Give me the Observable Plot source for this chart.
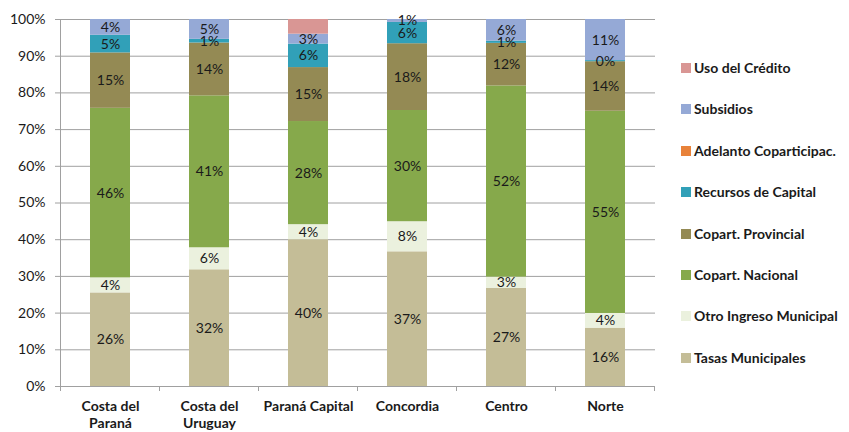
<!DOCTYPE html>
<html><head><meta charset="utf-8">
<script src="https://cdn.jsdelivr.net/npm/d3@7"></script>
<script src="https://cdn.jsdelivr.net/npm/@observablehq/plot@0.6"></script>
<style>
body{margin:0;background:#fff;font-family:Lato,sans-serif;}
#wrap{position:relative;width:849px;height:432px;}
.item{position:absolute;left:681px;white-space:nowrap;font-size:14px;font-weight:bold;color:#1a1a1a;display:flex;align-items:center;height:18px;line-height:18px;}
.sw{width:10px;height:10px;margin-right:3px;flex:none;}
</style></head>
<body><div id="wrap"></div>
<script>
const categories = ["Costa del Paraná", "Costa del Uruguay", "Paraná Capital", "Concordia", "Centro", "Norte"];
const xTickLabels = ["Costa del\nParaná", "Costa del\nUruguay", "Paraná Capital", "Concordia", "Centro", "Norte"];
const yTicks = [0, 10, 20, 30, 40, 50, 60, 70, 80, 90, 100];

const seriesNames = ["Tasas Municipales", "Otro Ingreso Municipal", "Copart. Nacional", "Copart. Provincial", "Recursos de Capital", "Adelanto Coparticipac.", "Subsidios", "Uso del Crédito"];
const tasas      = [25.5, 31.8, 40.0, 36.7, 26.7, 15.9];
const otro       = [4.1, 6.0, 4.1, 8.2, 3.1, 4.0];
const nacional   = [46.2, 41.4, 28.1, 30.3, 52.1, 55.1];
const provincial = [15.1, 14.4, 14.7, 18.2, 11.6, 13.5];
const recursos   = [4.8, 1.0, 6.4, 5.8, 0.6, 0.3];
const adelanto   = [0, 0, 0, 0, 0, 0];
const subsidios  = [4.3, 5.4, 2.7, 0.8, 5.9, 11.2];
const credito    = [0, 0, 4.0, 0, 0, 0];
const seriesValues = [tasas, otro, nacional, provincial, recursos, adelanto, subsidios, credito];
const colors = ["#c4bd97", "#ebf1de", "#86a94b", "#948a54", "#31a0b8", "#e8823a", "#95a9d6", "#d99694"];
const unlabeled = ["Adelanto Coparticipac.", "Uso del Crédito"];

const rows = seriesNames.flatMap((s, i) => categories.map((c, j) => ({cat: c, series: s, value: seriesValues[i][j]})));
const labelRows = rows.filter(r => !unlabeled.includes(r.series));

function boundaryTicks(index, scales, values, dimensions) {
  const x = scales.x;
  const step = typeof x.step === "function" ? x.step() : (x(categories[1]) - x(categories[0]));
  const bw = typeof x.bandwidth === "function" ? x.bandwidth() : step * 0.4;
  const y0 = dimensions.height - dimensions.marginBottom;
  const xs = categories.map(c => x(c) - (step - bw) / 2);
  xs.push(x(categories[categories.length - 1]) + bw + (step - bw) / 2);
  const g = d3.create("svg:g").attr("stroke", "#a0a0a0").attr("shape-rendering", "crispEdges");
  for (const v of xs) g.append("line").attr("x1", v).attr("x2", v).attr("y1", y0).attr("y2", y0 + 5);
  g.append("line").attr("x1", dimensions.marginLeft).attr("x2", dimensions.marginLeft)
    .attr("y1", dimensions.marginTop).attr("y2", y0);
  return g.node();
}

const chart = Plot.plot({
  width: 849, height: 432,
  marginLeft: 60, marginRight: 194, marginTop: 19, marginBottom: 46,
  style: {fontFamily: "Lato, sans-serif", fontSize: "14px", color: "#1a1a1a", background: "transparent"},
  x: {domain: categories, paddingInner: 0.6, paddingOuter: 0.3, label: null},
  y: {domain: [0, 100], label: null},
  color: {domain: seriesNames, range: colors},
  marks: [
    Plot.gridY(yTicks, {stroke: "#a0a0a0", strokeOpacity: 1}),
    Plot.barY(rows, {x: "cat", y: "value", fill: "series", order: seriesNames}),
    Plot.text(labelRows, Plot.stackY({x: "cat", y: "value", z: "series", order: seriesNames,
      text: d => Math.round(d.value) + "%", fill: "#1a1a1a", fontSize: 14})),
    Plot.axisY(yTicks, {tickFormat: d => d + "%", tickSize: 5, tickPadding: 10, stroke: "#a0a0a0", fill: "#1a1a1a", fontSize: 14, label: null}),
    Plot.axisX({tickSize: 0, tickPadding: 12, fontWeight: "bold", fontSize: 14, lineHeight: 1.25, fill: "#1a1a1a",
      tickFormat: d => xTickLabels[categories.indexOf(d)], label: null}),
    Plot.ruleY([0], {stroke: "#a0a0a0"}),
    boundaryTicks
  ]
});
const wrap = document.getElementById("wrap");
wrap.appendChild(chart);

const legendOrder = seriesNames.map((s, i) => i).reverse();
legendOrder.forEach((si, k) => {
  const item = document.createElement("div");
  item.className = "item";
  item.style.top = (68 + k * 41.4 - 9) + "px";
  const sw = document.createElement("span");
  sw.className = "sw";
  sw.style.background = colors[si];
  item.appendChild(sw);
  item.appendChild(document.createTextNode(seriesNames[si]));
  wrap.appendChild(item);
});
</script>
</body></html>
